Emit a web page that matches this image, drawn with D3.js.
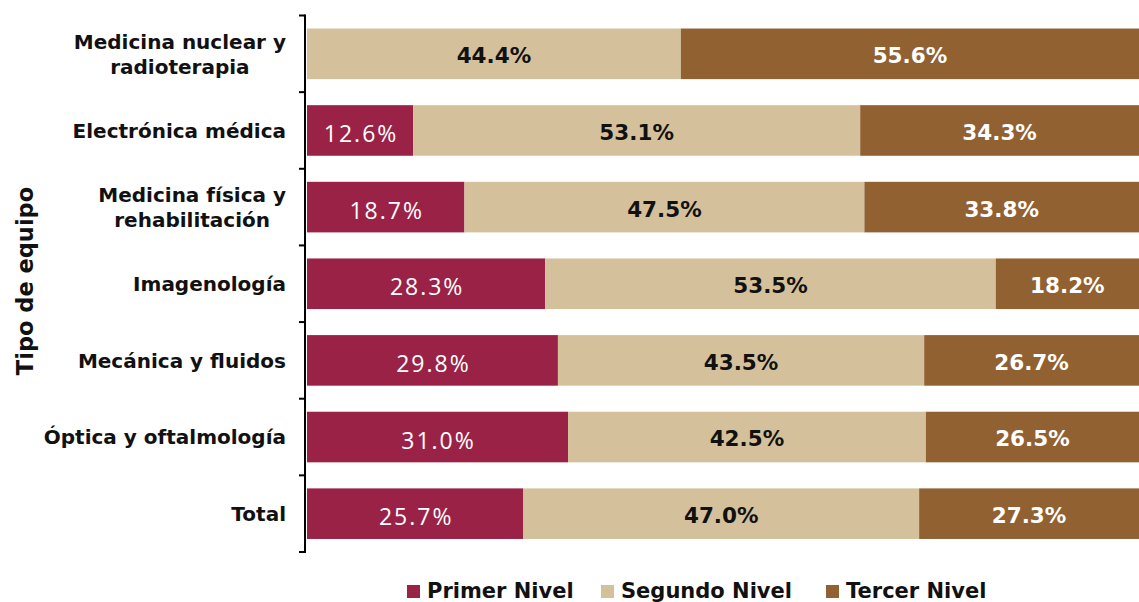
<!DOCTYPE html>
<html>
<head>
<meta charset="utf-8">
<script src="https://cdn.jsdelivr.net/npm/d3@7"></script>
<style>
  body { margin: 0; background: #fff; }
  svg { display: block; }
</style>
</head>
<body>
<svg id="chart" width="1139" height="602"></svg>
<script>
// data
const categories = [
  ["Medicina nuclear y", "radioterapia"],
  ["Electrónica médica"],
  ["Medicina física y", "rehabilitación"],
  ["Imagenología"],
  ["Mecánica y fluidos"],
  ["Óptica y oftalmología"],
  ["Total"]
];
const primer  = [0, 12.6, 18.7, 28.3, 29.8, 31.0, 25.7];
const segundo = [44.4, 53.1, 47.5, 53.5, 43.5, 42.5, 47.0];
const tercer  = [55.6, 34.3, 33.8, 18.2, 26.7, 26.5, 27.3];
const seriesNames = ["Primer Nivel", "Segundo Nivel", "Tercer Nivel"];
const colors = ["#9b2247", "#d4c19c", "#916132"];
const labelColors = ["#fff", "#111", "#fff"];

const font = "'DejaVu Sans', sans-serif";
const svg = d3.select("#chart");

const rows = categories.map((c, i) => ({
  key: c.join(" "),
  lines: c,
  "Primer Nivel": primer[i],
  "Segundo Nivel": segundo[i],
  "Tercer Nivel": tercer[i]
}));

const stacked = d3.stack().keys(seriesNames)(rows);

const x = d3.scaleLinear().domain([0, 100]).range([307, 1149]);
const y = d3.scaleBand()
  .domain(rows.map(d => d.key))
  .range([15.5, 552])
  .paddingInner(0.34)
  .paddingOuter(0.17);

// bars
const layers = svg.append("g")
  .selectAll("g")
  .data(stacked)
  .join("g")
  .attr("fill", (d, i) => colors[i]);

layers.selectAll("rect")
  .data(d => d.filter(p => p[1] - p[0] > 0))
  .join("rect")
  .attr("x", d => x(d[0]))
  .attr("y", d => y(d.data.key))
  .attr("width", d => x(d[1]) - x(d[0]))
  .attr("height", y.bandwidth());

// value labels
stacked.forEach((layer, i) => {
  svg.append("g")
    .selectAll("text")
    .data(layer.filter(p => p[1] - p[0] > 0))
    .join("text")
    .attr("x", d => (x(d[0]) + Math.min(x(d[1]), 1139)) / 2 + (i === 0 ? 1 : 0))
    .attr("y", d => y(d.data.key) + y.bandwidth() / 2)
    .attr("dy", i === 0 ? "0.5em" : "0.44em")
    .attr("text-anchor", "middle")
    .attr("fill", labelColors[i])
    .style("font-family", i === 0 ? "'Open Sans', sans-serif" : font)
    .style("font-size", i === 0 ? "23px" : "21.5px")
    .style("font-weight", i === 0 ? 400 : 700)
    .style("letter-spacing", i === 0 ? "2px" : "0px")
    .text(d => d3.format(".1f")(d[1] - d[0]) + "%");
});

// y axis: line with ticks at band boundaries
const axis = svg.append("g").attr("stroke", "#000").attr("stroke-width", 2);
const yTop = y.range()[0], yBot = y.range()[1];
axis.append("line")
  .attr("x1", 305).attr("x2", 305)
  .attr("y1", yTop - 1).attr("y2", yBot + 1);
const bounds = d3.range(rows.length + 1).map(i => yTop + i * y.step());
axis.selectAll(".tick")
  .data(bounds)
  .join("line")
  .attr("x1", 299).attr("x2", 305)
  .attr("y1", d => d).attr("y2", d => d);

// category labels
const catLabels = svg.append("g")
  .selectAll("text")
  .data(rows)
  .join("text")
  .attr("text-anchor", "middle")
  .attr("fill", "#111")
  .style("font-family", font)
  .style("font-size", "20px")
  .style("font-weight", 700);

catLabels.each(function(d) {
  const t = d3.select(this);
  const cy = y(d.key) + y.bandwidth() / 2;
  const n = d.lines.length;
  d.lines.forEach((line, j) => {
    t.append("tspan")
      .attr("x", 0)
      .attr("y", cy + (j - (n - 1) / 2) * 25)
      .attr("dy", "0.36em")
      .text(line);
  });
  // right-align the block, center lines inside it
  let w = 0;
  t.selectAll("tspan").each(function() { w = Math.max(w, this.getComputedTextLength()); });
  t.selectAll("tspan").attr("x", 286 - w / 2);
});

// axis title
svg.append("text")
  .attr("transform", "translate(33,281) rotate(-90)")
  .attr("text-anchor", "middle")
  .attr("fill", "#111")
  .style("font-family", font)
  .style("font-size", "22.5px")
  .style("font-weight", 700)
  .text("Tipo de equipo");

// legend
const legendX = [407, 601, 826];
const legend = svg.append("g")
  .selectAll("g")
  .data(seriesNames)
  .join("g")
  .attr("transform", (d, i) => `translate(${legendX[i]},585)`);
legend.append("rect")
  .attr("width", 13).attr("height", 13)
  .attr("fill", (d, i) => colors[i]);
legend.append("text")
  .attr("x", 20).attr("y", 13)
  .attr("fill", "#111")
  .style("font-family", font)
  .style("font-size", "21px")
  .style("font-weight", 700)
  .text(d => d);
</script>
</body>
</html>
